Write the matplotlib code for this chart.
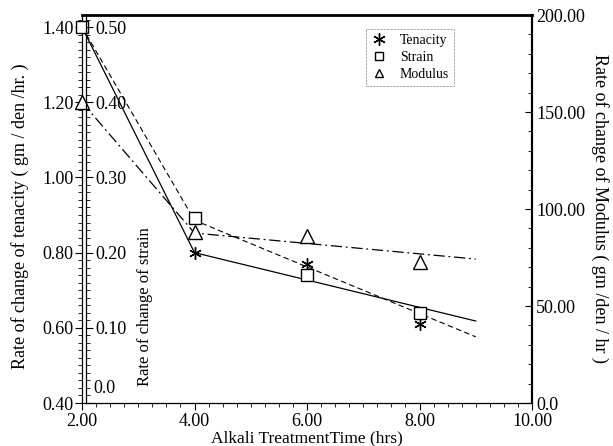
import matplotlib
matplotlib.use("Agg")

import matplotlib.pyplot as plt
from matplotlib.lines import Line2D
from matplotlib.ticker import MultipleLocator, FuncFormatter

# ---------------------------------------------------------------------------
# Data
# ---------------------------------------------------------------------------
time_hrs = [2, 4, 6, 8]
tenacity = [1.40, 0.80, 0.77, 0.61]
strain = [0.50, 0.246, 0.170, 0.120]
modulus = [155.0, 88.0, 86.0, 72.5]

# drawn trend lines (start point, knee at 4 h, end at 9 h)
line_x = [2, 4, 9]
tenacity_line = [1.40, 0.80, 0.618]
strain_line = [0.50, 0.243, 0.088]
modulus_line = [155.0, 87.6, 74.2]

# ---------------------------------------------------------------------------
# Canvas
# ---------------------------------------------------------------------------
plt.rcParams["font.family"] = ["Liberation Serif", "DejaVu Serif"]
W, H = 613, 446
fig = plt.figure(figsize=(W / 100, H / 100), dpi=100)

left, right, top, bottom = 82, 532, 15, 403
pos = [left / W, 1 - bottom / H, (right - left) / W, (bottom - top) / H]
ax = fig.add_axes(pos)

TEN_LIM = (0.40, 1.432)
STR_LIM = (0.0, (TEN_LIM[1] - 0.40) * 0.5)
TICK_FS = 13


def fmt(v, _):
    return "0.0" if abs(v) < 1e-9 else "%.2f" % v


def fmt_strain(v, _):
    # the 0.0 label is placed by hand, a little above its tick
    return "" if abs(v) < 1e-9 else "%.2f" % v


# tenacity axis (left)
ax.set_xlim(2, 10)
ax.set_ylim(*TEN_LIM)
ax.xaxis.set_major_locator(MultipleLocator(2))
ax.xaxis.set_minor_locator(MultipleLocator(0.25))
ax.yaxis.set_major_locator(MultipleLocator(0.2))
ax.yaxis.set_minor_locator(MultipleLocator(0.02))
ax.xaxis.set_major_formatter(FuncFormatter(fmt))
ax.yaxis.set_major_formatter(FuncFormatter(fmt))
ax.tick_params(axis="both", which="major", direction="out", length=5,
               width=0.8, labelsize=TICK_FS, pad=2)
ax.tick_params(axis="both", which="minor", direction="out", length=3,
               width=0.6)
ax.tick_params(axis="y", which="major", pad=1)
ax.spines["top"].set_linewidth(2.0)
ax.spines["right"].set_linewidth(1.5)
ax.spines["left"].set_linewidth(0.9)
ax.spines["bottom"].set_linewidth(0.9)

# modulus axis (right)
ax_m = ax.twinx()
ax_m.set_ylim(0, 200)
ax_m.yaxis.set_major_locator(MultipleLocator(50))
ax_m.yaxis.set_minor_locator(MultipleLocator(10))
ax_m.yaxis.set_major_formatter(FuncFormatter(fmt))
ax_m.tick_params(axis="y", which="major", direction="in", length=5,
                 width=0.8, labelsize=TICK_FS, pad=3)
ax_m.tick_params(axis="y", which="minor", direction="in", length=3,
                 width=0.6)
for s in ["top", "left", "bottom"]:
    ax_m.spines[s].set_visible(False)
ax_m.spines["right"].set_linewidth(1.5)

# strain data axis (invisible, same box)
ax_s = ax.twinx()
ax_s.set_ylim(*STR_LIM)
ax_s.axis("off")

# strain scale: thin axes whose right spine sits just inside the left spine
sc_w = 4 / W
ax_sc = fig.add_axes([pos[0], pos[1], sc_w, pos[3]])
ax_sc.set_ylim(*STR_LIM)
ax_sc.set_xticks([])
ax_sc.patch.set_visible(False)
for s in ["top", "left", "bottom"]:
    ax_sc.spines[s].set_visible(False)
ax_sc.spines["right"].set_linewidth(0.9)
ax_sc.yaxis.tick_right()
ax_sc.yaxis.set_major_locator(MultipleLocator(0.1))
ax_sc.yaxis.set_minor_locator(MultipleLocator(0.01))
ax_sc.yaxis.set_major_formatter(FuncFormatter(fmt_strain))
ax_sc.tick_params(axis="y", which="major", direction="out", length=5,
                  width=0.8, labelsize=TICK_FS, pad=2)
ax_sc.tick_params(axis="y", which="minor", direction="out", length=3,
                  width=0.6)
fig.text(93 / W, 1 - 397 / H, "0.0", ha="left", va="bottom",
         fontsize=TICK_FS)

# ---------------------------------------------------------------------------
# Series
# ---------------------------------------------------------------------------
ax.plot(line_x, tenacity_line, color="black", lw=0.9, ls="-")
ax.plot(time_hrs, tenacity, ls="none", marker=(6, 2, 0), ms=9,
        mec="black", mew=1.0, clip_on=False)

ax_s.plot(line_x, strain_line, color="black", lw=0.8, dashes=(5, 3))
ax_s.plot(time_hrs, strain, ls="none", marker="s", ms=8, mfc="white",
          mec="black", mew=1.0, clip_on=False)

ax_m.plot(line_x, modulus_line, color="black", lw=0.9,
          dashes=(9, 3, 1.5, 3))
ax_m.plot(time_hrs, modulus, ls="none", marker="^", ms=10, mfc="white",
          mec="black", mew=1.0, clip_on=False)

# ---------------------------------------------------------------------------
# Legend
# ---------------------------------------------------------------------------
handles = [
    Line2D([], [], ls="none", marker=(6, 2, 0), ms=9, mec="black", mew=1.0),
    Line2D([], [], ls="none", marker="s", ms=6, mfc="white", mec="black",
           mew=1.0),
    Line2D([], [], ls="none", marker="^", ms=6, mfc="white", mec="black",
           mew=1.0),
]
leg = fig.legend(handles, ["Tenacity", "Strain", "Modulus"],
                 loc="upper left",
                 bbox_to_anchor=(366 / W, 1 - 29 / H),
                 fontsize=10, frameon=True, fancybox=False,
                 handlelength=1.2, handletextpad=0.9, borderpad=0.35,
                 labelspacing=0.3, borderaxespad=0)
leg.get_frame().set_edgecolor("#888888")
leg.get_frame().set_linewidth(0.6)
leg.get_frame().set_linestyle((0, (3, 1)))

# ---------------------------------------------------------------------------
# Axis titles
# ---------------------------------------------------------------------------
fig.text(20 / W, 1 - 216 / H,
         "Rate of change of tenacity ( gm / den /hr. )",
         rotation=90, ha="center", va="center", fontsize=13)
fig.text(145 / W, 1 - 307 / H, "Rate of change of strain",
         rotation=90, ha="center", va="center", fontsize=12)
fig.text(600 / W, 1 - 208 / H,
         "Rate of change of Modulus ( gm /den / hr )",
         rotation=-90, ha="center", va="center", fontsize=13)
fig.text(307 / W, 1 - 438 / H, "Alkali TreatmentTime (hrs)",
         ha="center", va="center", fontsize=12.5)

fig.savefig("out.png", dpi=100, facecolor="white")
plt.close(fig)
